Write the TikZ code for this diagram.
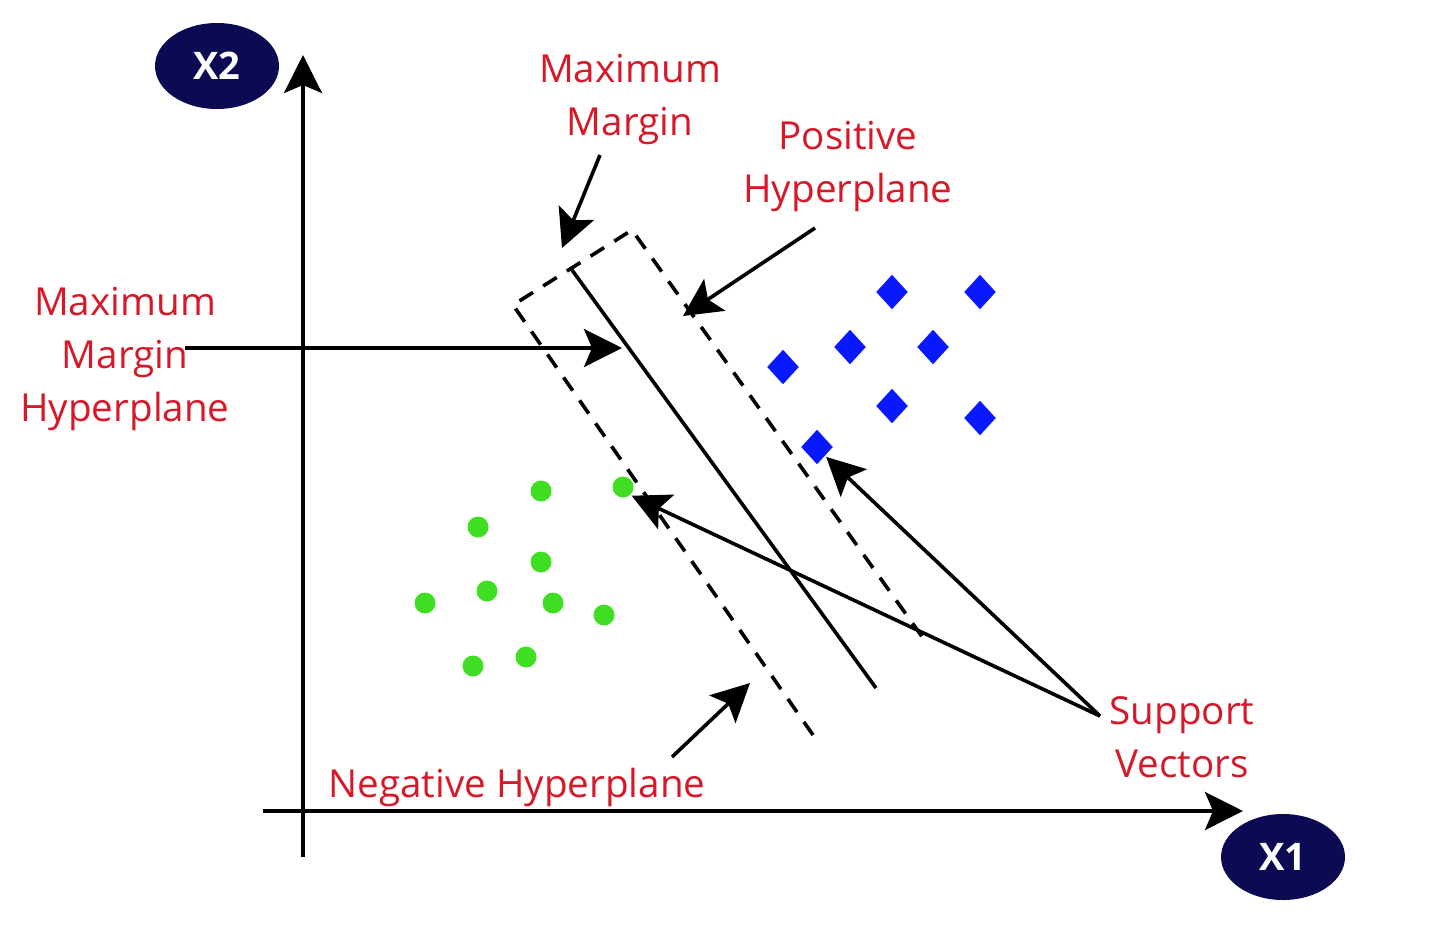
\documentclass[tikz,border=0pt]{standalone}
\usepackage{fontspec}
\setmainfont{Open Sans}
\usetikzlibrary{arrows.meta,shapes.geometric}
\definecolor{labelred}{RGB}{214,24,40}
\definecolor{axisnavy}{RGB}{12,10,82}
\definecolor{posblue}{RGB}{8,24,255}
\definecolor{neggreen}{RGB}{64,222,34}

\begin{document}
\begin{tikzpicture}[x=.5pt,y=-.5pt,line width=1.8pt,
  >={Stealth[length=19pt,width=19pt,inset=4pt]},
  font=\fontsize{19.3}{26.5}\selectfont,
  lbl/.style={text=labelred,align=center,inner sep=0pt},
  axisname/.style={ellipse,fill=axisnavy,text=white,inner sep=0pt,
    minimum width=62pt,minimum height=43pt,font=\fontsize{19}{22}\bfseries},
  plane/.style={dash pattern=on 8pt off 6pt},
  posvec/.style={diamond,fill=posblue,inner sep=0pt,
    minimum width=16.5pt,minimum height=18pt},
  negvec/.style={circle,fill=neggreen,inner sep=0pt,minimum size=10.5pt}]
  \useasboundingbox (0,0) rectangle (1455,933);
  % axes
  \coordinate (origin) at (303,811);
  \coordinate (x1start) at (263,811);
  \coordinate (x1tip) at (1243,811);
  \coordinate (x2start) at (303,857);
  \coordinate (x2tip) at (303,55);
  \draw[->] (x1start) -- (x1tip);
  \draw[->] (x2start) -- (x2tip);
  \node[axisname] (x1) at (1283,857) {X1};
  \node[axisname] (x2) at (217,66) {X2};
  % hyperplanes: the margin strip and the separating line
  \coordinate (negtop) at (513,305);
  \coordinate (negend) at (813,735);
  \coordinate (postop) at (632,230);
  \coordinate (posend) at (928,645);
  \coordinate (midtop) at (572,270);
  \coordinate (midend) at (876,688);
  \draw[plane] (negend) -- (negtop) -- (postop) -- (posend);
  \draw (midtop) -- (midend);
  % class +1
  \foreach \px/\py [count=\i] in {892/292,980/292,850/347,933/347,
    783/367,892/406,980/418,817/447}
    \node[posvec] (pos\i) at (\px,\py) {};
  % class -1
  \foreach \nx/\ny [count=\i] in {541/491,623/487,478/527,541/562,487/591,
    553/603,425/603,604/615,473/666,526/657}
    \node[negvec] (neg\i) at (\nx,\ny) {};
  % labels
  \node[lbl] (mmargin) at (630,99) {Maximum\\Margin};
  \node[lbl] (posplane) at (848,166) {Positive\\Hyperplane};
  \node[lbl] (mmplane) at (125,359) {Maximum\\Margin\\Hyperplane};
  \node[lbl] (negplane) at (517,787) {Negative Hyperplane};
  \node[lbl] (support) at (1182,737) {Support\\Vectors};
  % pointers
  \coordinate (mmargintail) at (600,155);
  \coordinate (mmargintip) at (562,248);
  \coordinate (posplanetail) at (815,228);
  \coordinate (posplanetip) at (683,316);
  \coordinate (mmplanetail) at (185,348);
  \coordinate (mmplanetip) at (622,348);
  \coordinate (negplanetail) at (672,757);
  \coordinate (negplanetip) at (750,683);
  \coordinate (supporttail) at (1100,716);
  \draw[->] (mmargintail) -- (mmargintip);
  \draw[->] (posplanetail) -- (posplanetip);
  \draw[->] (mmplanetail) -- (mmplanetip);
  \draw[->] (negplanetail) -- (negplanetip);
  \draw[->] (supporttail) -- (neg2.south east);
  \draw[->] (supporttail) -- (pos8.south east);
\end{tikzpicture}
\end{document}
